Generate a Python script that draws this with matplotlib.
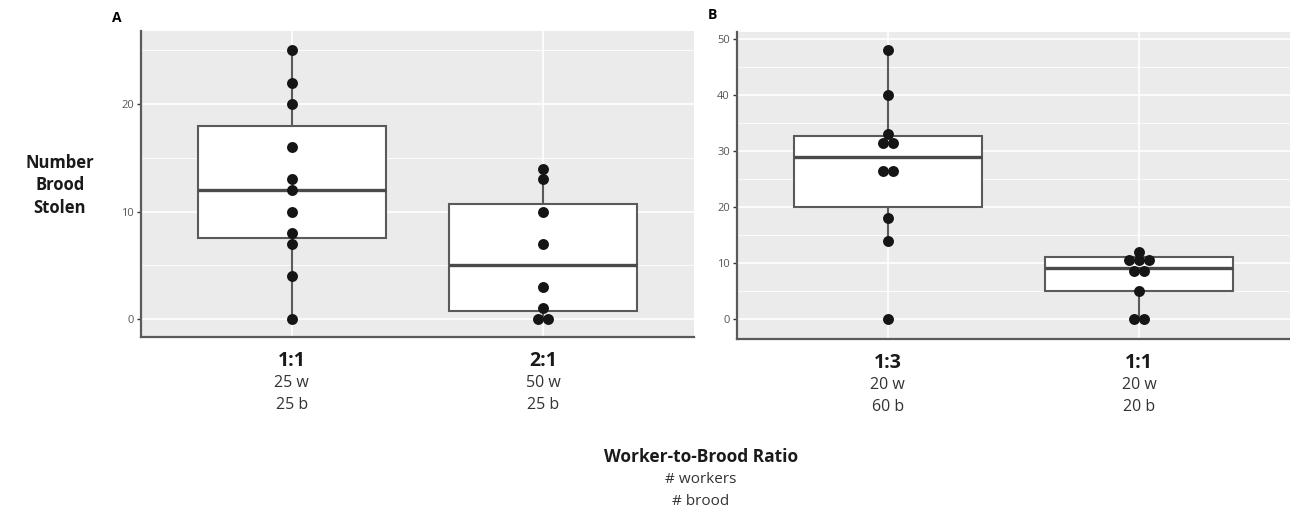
import matplotlib
matplotlib.use("Agg")
import matplotlib.pyplot as plt
import matplotlib.transforms as mtransforms
import numpy as np

plt.rcParams['font.family'] = ['Open Sans', 'DejaVu Sans']

# panel A: ratio 1:1 vs 2:1
a_ratio = ['1:1', '2:1']
a_workers = ['25 w', '50 w']
a_brood = ['25 b', '25 b']
a_11 = [25, 22, 20, 16, 13, 12, 10, 8, 7, 4, 0]
a_21 = [14, 13, 10, 7, 3, 1, 0, 0]

# panel B: ratio 1:3 vs 1:1
b_ratio = ['1:3', '1:1']
b_workers = ['20 w', '20 w']
b_brood = ['60 b', '20 b']
b_13 = [48, 40, 33, 32, 31, 27, 26, 18, 14, 0]
b_11 = [12, 11, 11, 10, 9, 8, 5, 0, 0]

a_yticks = [0, 10, 20]
b_yticks = [0, 10, 20, 30, 40, 50]

BG = '#EBEBEB'
EDGE = '#5a5a5a'


def dot_bins(vals, bw):
    # ggplot-style dotdensity binning: stack centered on (min+max)/2 of each bin
    v = sorted(vals)
    out = []
    i = 0
    while i < len(v):
        grp = [x for x in v[i:] if x < v[i] + bw]
        out.append(((min(grp) + max(grp)) / 2, len(grp)))
        i += len(grp)
    return out


def panel(ax, groups, ratio, workers, brood, yticks, ylim, bw):
    ax.boxplot(groups, positions=[1, 2], widths=0.75, whis=1.5, showfliers=False,
               showcaps=False, patch_artist=True,
               boxprops=dict(facecolor='white', edgecolor=EDGE, linewidth=1.5),
               medianprops=dict(color='#4a4a4a', linewidth=2.4),
               whiskerprops=dict(color=EDGE, linewidth=1.5), zorder=2)

    step = 0.04
    for pos, vals in zip([1, 2], groups):
        for yc, n in dot_bins(vals, bw):
            xs = pos + (np.arange(n) - (n - 1) / 2) * step
            ax.scatter(xs, [yc] * n, s=62, color='#151515', zorder=3, linewidths=0)

    ax.set_facecolor(BG)
    ax.set_xlim(0.4, 2.6)
    ax.set_ylim(*ylim)
    ax.set_yticks(yticks)
    minor = [t + 5 for t in yticks if t + 5 < ylim[1]]
    ax.set_yticks(minor, minor=True)
    ax.set_xticks([1, 2])
    ax.set_xticklabels(['', ''])
    ax.grid(True, which='major', color='white', lw=1.2)
    ax.grid(True, which='minor', axis='y', color='white', lw=0.6)
    ax.set_axisbelow(True)
    for s in ['top', 'right']:
        ax.spines[s].set_visible(False)
    for s in ['left', 'bottom']:
        ax.spines[s].set_color(EDGE)
        ax.spines[s].set_linewidth(1.6)
    ax.tick_params(axis='y', which='major', length=3, width=1, color='#333333',
                   labelcolor='#555555', labelsize=8, pad=2)
    ax.tick_params(axis='y', which='minor', length=0)
    ax.tick_params(axis='x', length=0)

    tr = mtransforms.blended_transform_factory(ax.transData, ax.transAxes)
    for pos, r, w, b in zip([1, 2], ratio, workers, brood):
        ax.text(pos, -0.045, r, transform=tr, ha='center', va='top',
                fontsize=14, fontweight='bold', color='#1a1a1a')
        ax.text(pos, -0.125, w, transform=tr, ha='center', va='top',
                fontsize=11.5, color='#333333')
        ax.text(pos, -0.195, b, transform=tr, ha='center', va='top',
                fontsize=11.5, color='#333333')


fig = plt.figure(figsize=(12.9, 5.15), dpi=100)
axA = fig.add_axes([0.1093, 0.3456, 0.4287, 0.5942])
axB = fig.add_axes([0.5713, 0.3417, 0.4287, 0.5962])

panel(axA, [a_11, a_21], a_ratio, a_workers, a_brood, a_yticks, (-1.67, 26.8),
      (max(a_11 + a_21) - min(a_11 + a_21)) / 30)
panel(axB, [b_13, b_11], b_ratio, b_workers, b_brood, b_yticks, (-3.6, 51.25),
      (max(b_13 + b_11) - min(b_13 + b_11)) / 30)

fig.text(0.0868, 0.965, 'A', fontsize=10, fontweight='bold', ha='left', va='center')
fig.text(0.5488, 0.971, 'B', fontsize=10, fontweight='bold', ha='left', va='center')

fig.text(0.0465, 0.64, 'Number\nBrood\nStolen', fontsize=12, fontweight='bold',
         ha='center', va='center', linespacing=1.35, color='#1a1a1a')

fig.text(0.5434, 0.113, 'Worker-to-Brood Ratio', fontsize=12.5, fontweight='bold',
         ha='center', va='center', color='#1a1a1a')
fig.text(0.5434, 0.068, '# workers', fontsize=11, ha='center', va='center', color='#333333')
fig.text(0.5434, 0.026, '# brood', fontsize=11, ha='center', va='center', color='#333333')

fig.savefig('out.png', dpi=100)
